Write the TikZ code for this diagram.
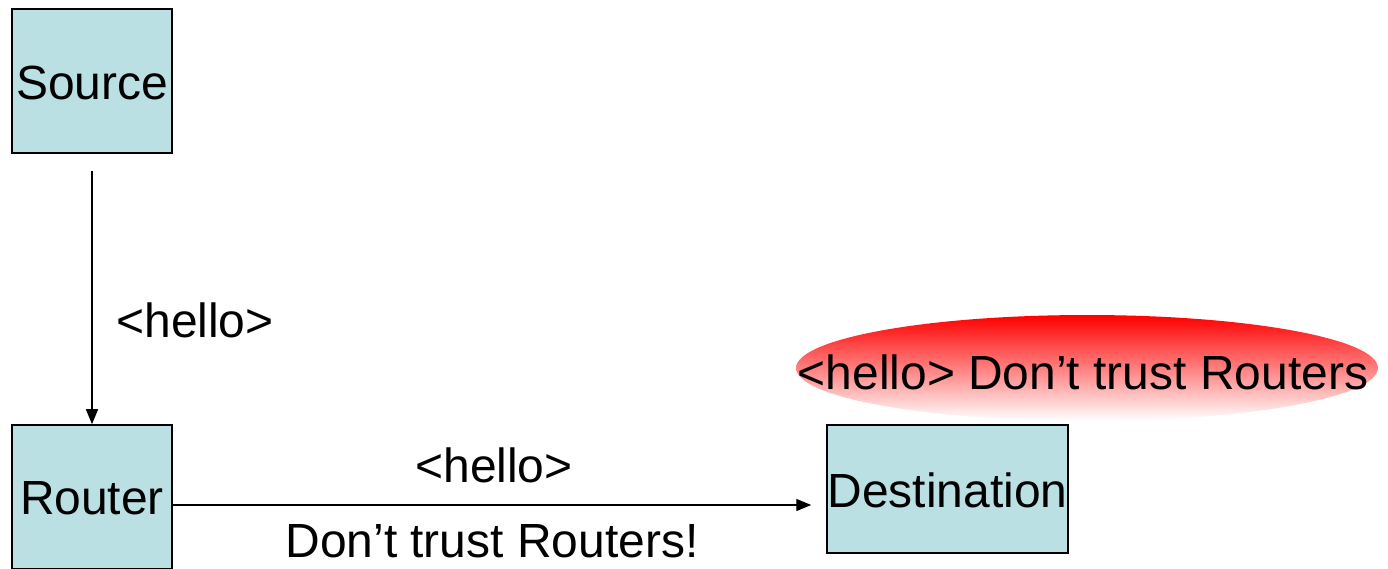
\documentclass[tikz,border=0pt]{standalone}
\usepackage{fontspec}
\setmainfont{Liberation Sans}
\usetikzlibrary{shapes.geometric, arrows.meta}
\definecolor{boxfill}{RGB}{186,224,227}
\tikzset{
  hostbox/.style={draw=black, fill=boxfill, line width=0.9pt, inner sep=0pt},
  msg/.style={font=\fontsize{27.3}{32}\selectfont, inner sep=0pt},
  link/.style={-{Triangle[length=0.3cm, width=0.24cm]}, line width=0.8pt}
}
\begin{document}
\begin{tikzpicture}[x=0.02cm, y=-0.02cm]
  \useasboundingbox (0,0) rectangle (1388,568);
  \node[hostbox, minimum width=3.2cm, minimum height=2.88cm] (src) at (92,81) {};
  \node[msg] at (92,83) {Source};
  \node[hostbox, minimum width=3.2cm, minimum height=2.88cm] (rtr) at (92,497) {};
  \node[msg] at (92,498) {Router};
  \node[hostbox, minimum width=4.82cm, minimum height=2.56cm] (dst) at (947.5,489) {};
  \node[msg] at (947.5,490) {Destination};
  \node[ellipse, minimum width=11.64cm, minimum height=2.12cm, inner sep=0pt,
    top color=red, bottom color=white, shading angle=0] (warn) at (1087,368) {};
  \node[msg] at (1083,372) {<hello> Don’t trust Routers};
  \draw[link, shorten <=0.34cm] (src.south) -- (rtr.north);
  \draw[link, shorten >=0.3cm] (rtr.east |- 0,505) -- (dst.west |- 0,505);
  \node[msg] (l1) at (195,320) {<hello>};
  \node[msg] (l2) at (494,465) {<hello>};
  \node[msg] (l3) at (492,541) {Don’t trust Routers!};
\end{tikzpicture}
\end{document}
